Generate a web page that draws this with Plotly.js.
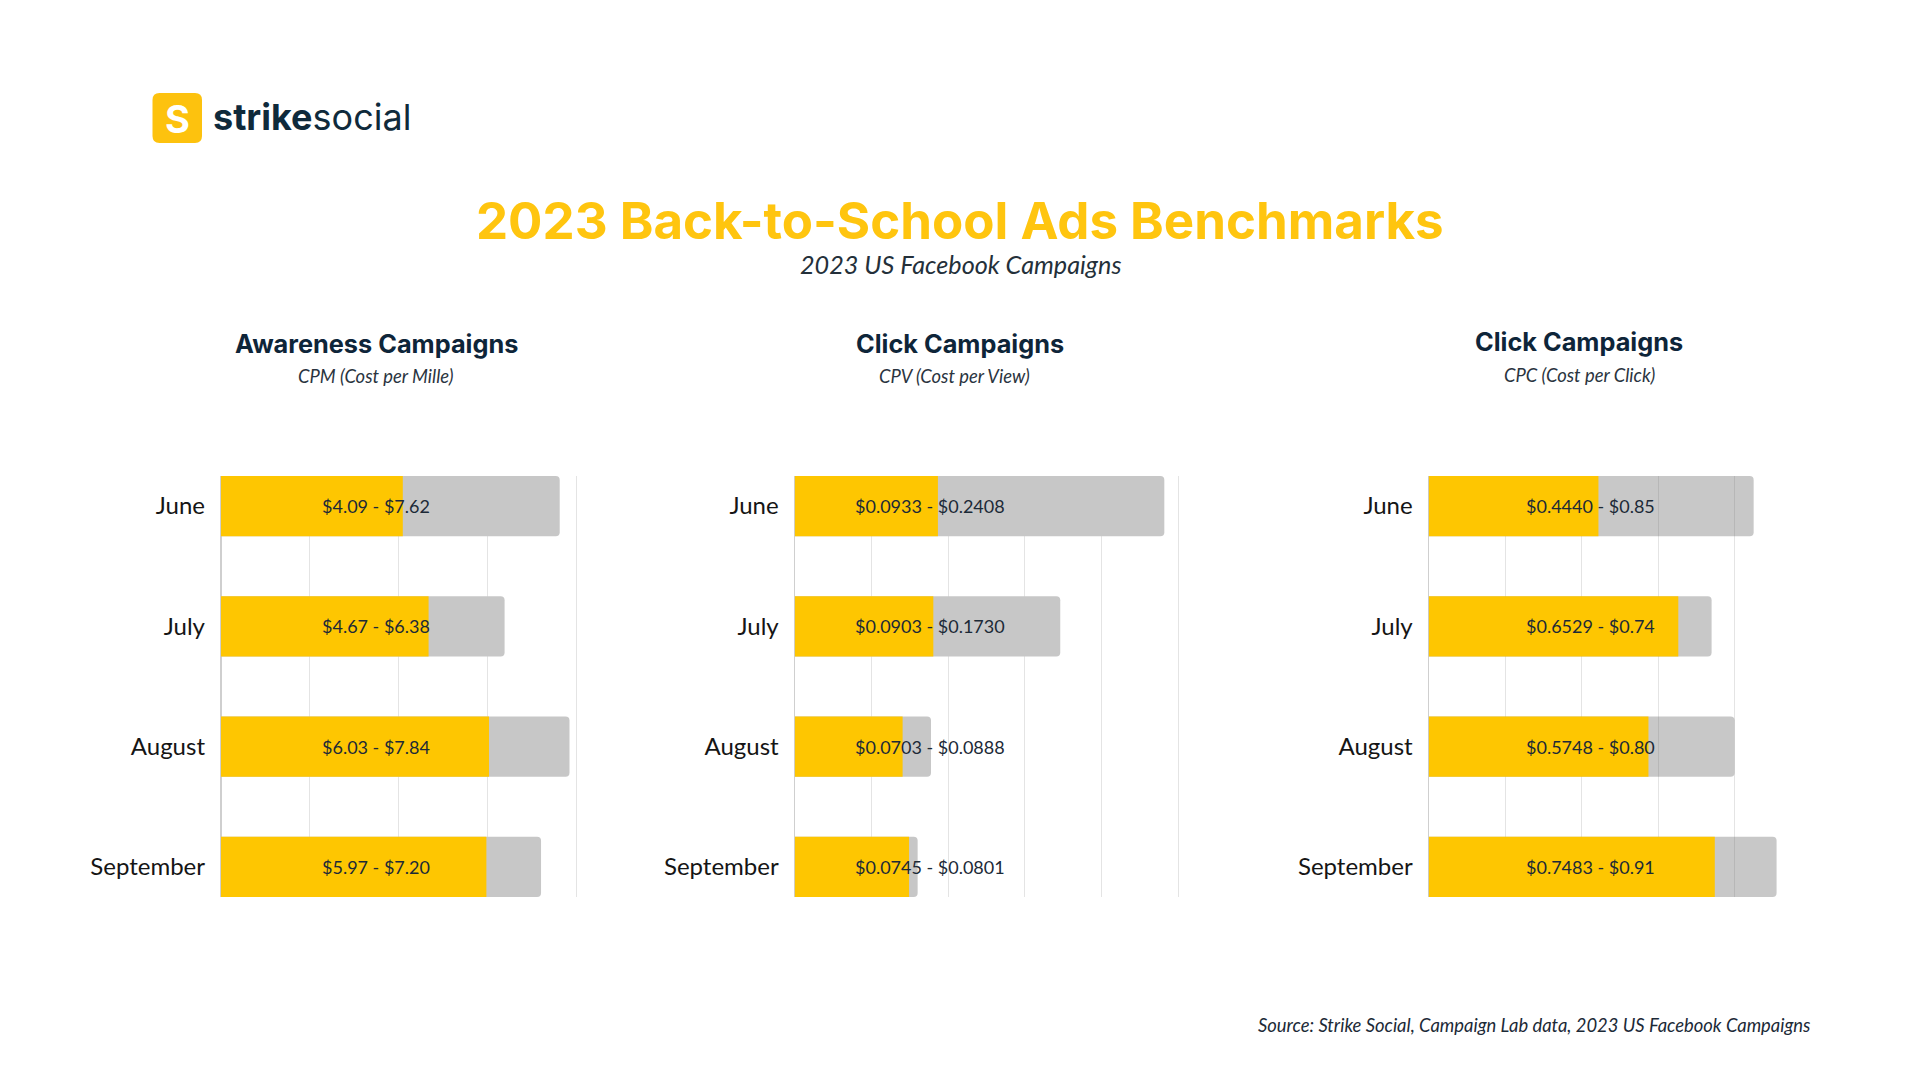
<!DOCTYPE html>
<html>
<head>
<meta charset="utf-8">
<script src="https://cdn.plot.ly/plotly-3.0.1.min.js"></script>
<style>
  html, body { margin: 0; padding: 0; background: #ffffff; }
  #chart { width: 1920px; height: 1080px; }
</style>
</head>
<body>
<div id="chart"></div>
<script>
// ---------- DATA ----------
const months = ["June", "July", "August", "September"];

// Awareness Campaigns - CPM (Cost per Mille)
const cpmLow  = [4.09, 4.67, 6.03, 5.97];
const cpmHigh = [7.62, 6.38, 7.84, 7.20];

// Click Campaigns - CPV (Cost per View)
const cpvLow  = [0.0933, 0.0903, 0.0703, 0.0745];
const cpvHigh = [0.2408, 0.1730, 0.0888, 0.0801];

// Click Campaigns - CPC (Cost per Click)
const cpcLow  = [0.4440, 0.6529, 0.5748, 0.7483];
const cpcHigh = [0.85, 0.74, 0.80, 0.91];

const panelTitles    = ["Awareness Campaigns", "Click Campaigns", "Click Campaigns"];
const panelSubtitles = ["CPM (Cost per Mille)", "CPV (Cost per View)", "CPC (Cost per Click)"];
const mainTitle = "2023 Back-to-School Ads Benchmarks";
const subTitle  = "2023 US Facebook Campaigns";
const sourceText = "Source: Strike Social, Campaign Lab data, 2023 US Facebook Campaigns";

// ---------- STYLE ----------
const W = 1920, H = 1080;
const YELLOW = "#FEC601";
const GRAY = "#C7C7C7";
const NAVY = "#0E2539";
const TEXT = "#1C2A37";
const GRID = "#E4E4E4";

const px = x => x / W;
const py = y => 1 - y / H;

const yDomain = [py(897), py(476)];

const panels = [
  { low: cpmLow, high: cpmHigh, fmtL: 2, fmtH: 2, axisPx: 221,   scale: 44.45, rmax: 8.05,  dtick: 2,    labelX: 376,   grayColor: GRAY },
  { low: cpvLow, high: cpvHigh, fmtL: 4, fmtH: 4, axisPx: 794.7, scale: 1535,  rmax: 0.2515, dtick: 0.05, labelX: 929.5, grayColor: GRAY },
  { low: cpcLow, high: cpcHigh, fmtL: 4, fmtH: 2, axisPx: 1428.7,scale: 382.3, rmax: 0.95,  dtick: 0.2,  labelX: 1590.7, grayColor: "rgba(105,105,105,0.37)" }
];
const titleCenters = [376, 959.5, 1579];
const titleY = [343, 343, 341];
const subCenters = [376, 954.5, 1580];
const subY = [376, 376, 375];

const traces = [];
const annotations = [];
const layout = {
  width: W, height: H,
  margin: { l: 0, r: 0, t: 0, b: 0 },
  paper_bgcolor: "#ffffff",
  plot_bgcolor: "rgba(0,0,0,0)",
  barmode: "overlay",
  bargap: 0.5,
  showlegend: false,
  font: { family: "Lato, sans-serif", color: TEXT },
  shapes: [],
  annotations: annotations
};

panels.forEach((p, i) => {
  const n = i === 0 ? "" : String(i + 1);
  const xa = "x" + n, ya = "y" + n;
  traces.push({
    type: "bar", orientation: "h", x: p.high, y: months,
    xaxis: xa, yaxis: ya,
    marker: { color: p.grayColor, cornerradius: 4, line: { width: 0 } },
    hoverinfo: "skip"
  });
  traces.push({
    type: "bar", orientation: "h", x: p.low, y: months,
    xaxis: xa, yaxis: ya,
    marker: { color: YELLOW, cornerradius: 3, line: { width: 0 } },
    hoverinfo: "skip"
  });
  layout["xaxis" + n] = {
    domain: [px(p.axisPx), px(p.axisPx + p.scale * p.rmax)],
    range: [0, p.rmax],
    anchor: ya,
    dtick: p.dtick, tick0: 0,
    showgrid: true, gridcolor: GRID, gridwidth: 1,
    zeroline: true, zerolinecolor: "#CFCFCF", zerolinewidth: 1.5,
    showline: false, showticklabels: false, ticks: "",
    fixedrange: true
  };
  layout["yaxis" + n] = {
    domain: yDomain,
    anchor: xa,
    type: "category",
    categoryorder: "array", categoryarray: months,
    range: [3.25, -0.25],
    showgrid: false, zeroline: false, showline: false, ticks: "",
    ticklabelstandoff: 15,
    tickfont: { family: "Lato, sans-serif", size: 24, color: "#151515" },
    fixedrange: true
  };
  months.forEach((m, k) => {
    annotations.push({
      xref: "paper", x: px(p.labelX), xanchor: "center",
      yref: ya, y: m, yanchor: "middle",
      text: "$" + p.low[k].toFixed(p.fmtL) + " - $" + p.high[k].toFixed(p.fmtH),
      showarrow: false,
      font: { family: "Lato, sans-serif", size: 18, color: TEXT }
    });
  });
  annotations.push({
    xref: "paper", yref: "paper", x: px(titleCenters[i]), y: py(titleY[i]),
    xanchor: "center", yanchor: "middle", showarrow: false,
    text: "<b>" + panelTitles[i] + "</b>",
    font: { family: "Inter, sans-serif", size: 25.3, color: NAVY, weight: 800 }
  });
  annotations.push({
    xref: "paper", yref: "paper", x: px(subCenters[i]), y: py(subY[i]),
    xanchor: "center", yanchor: "middle", showarrow: false,
    text: "<i>" + panelSubtitles[i] + "</i>",
    font: { family: "Lato, sans-serif", size: 18.4, color: "#2A3440" }
  });
});

// Main title & subtitle
annotations.push({
  xref: "paper", yref: "paper", x: px(960), y: py(220),
  xanchor: "center", yanchor: "middle", showarrow: false,
  text: "<b>" + mainTitle + "</b>",
  font: { family: "Inter, sans-serif", size: 51, color: "#FFC50F", weight: 800 }
});
annotations.push({
  xref: "paper", yref: "paper", x: px(960), y: py(264),
  xanchor: "center", yanchor: "middle", showarrow: false,
  text: "<i>" + subTitle + "</i>",
  font: { family: "Lato, sans-serif", size: 25.2, color: "#24303A" }
});

// Source
annotations.push({
  xref: "paper", yref: "paper", x: px(1812), y: py(1025),
  xanchor: "right", yanchor: "middle", showarrow: false,
  text: "<i>" + sourceText + "</i>",
  font: { family: "Lato, sans-serif", size: 18.4, color: TEXT }
});

// Logo
function rr(x0, y0, x1, y1, r) {
  const P = (x, y) => px(x) + "," + py(y);
  return "M" + P(x0 + r, y0) + " L" + P(x1 - r, y0) + " Q" + P(x1, y0) + " " + P(x1, y0 + r) +
         " L" + P(x1, y1 - r) + " Q" + P(x1, y1) + " " + P(x1 - r, y1) +
         " L" + P(x0 + r, y1) + " Q" + P(x0, y1) + " " + P(x0, y1 - r) +
         " L" + P(x0, y0 + r) + " Q" + P(x0, y0) + " " + P(x0 + r, y0) + " Z";
}
layout.shapes.push({
  type: "path", xref: "paper", yref: "paper",
  path: rr(152.5, 93, 202, 143, 7),
  fillcolor: "#FDC20E", line: { width: 0 }
});
annotations.push({
  xref: "paper", yref: "paper", x: px(177.5), y: py(118.5),
  xanchor: "center", yanchor: "middle", showarrow: false,
  text: "<b>S</b>",
  font: { family: "Inter, sans-serif", size: 38, color: "#ffffff", weight: 900 }
});
annotations.push({
  xref: "paper", yref: "paper", x: px(210.5), y: py(116.5),
  xanchor: "left", yanchor: "middle", showarrow: false,
  text: "<b>strike</b>social",
  font: { family: "Inter, sans-serif", size: 36, color: "#0F2A3B" }
});

Plotly.newPlot("chart", traces, layout, { staticPlot: true, displayModeBar: false });
</script>
</body>
</html>
